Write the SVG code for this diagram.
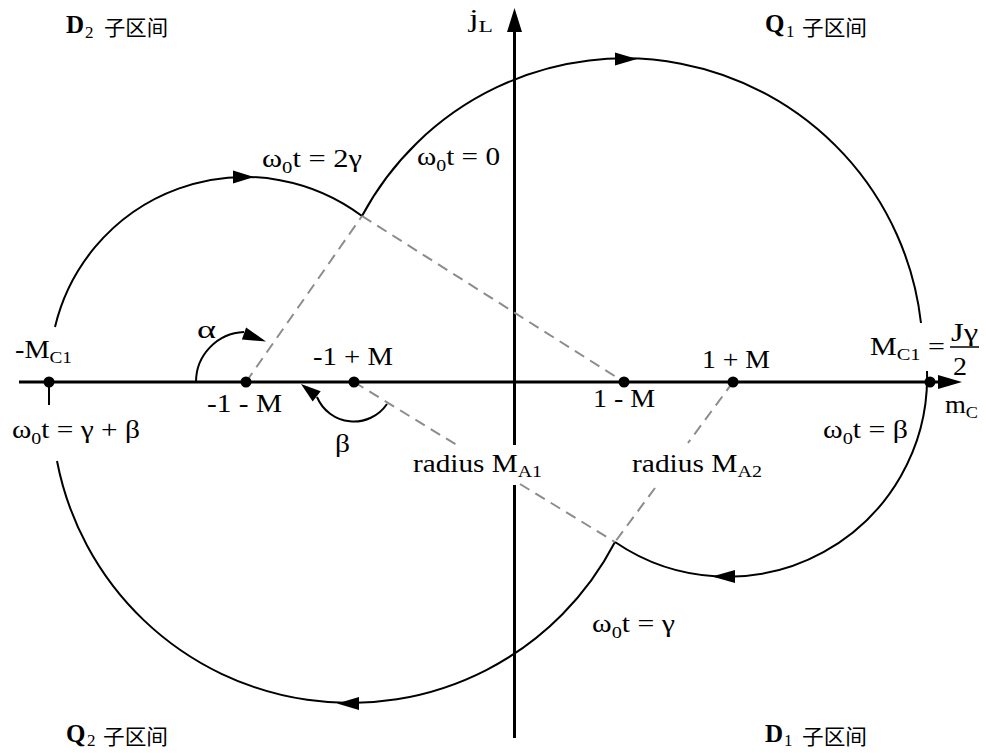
<svg xmlns="http://www.w3.org/2000/svg" width="986" height="753" viewBox="0 0 986 753">
<style>
  text { font-family: "Liberation Serif", "Times New Roman", serif; font-size: 25px; fill: #000; }
  .sub { font-size: 17px; }
  .cjk { font-family: "Noto Sans CJK SC", "Noto Sans CJK TC", sans-serif; font-size: 21px; }
  .bold { font-weight: bold; font-size: 25px; }
  .axis { stroke: #000; stroke-width: 3; fill: none; }
  .arc { stroke: #000; stroke-width: 2; fill: none; }
  .dash { stroke: #8c8c8c; stroke-width: 2; stroke-dasharray: 11 7; fill: none; }
  .head { fill: #000; stroke: none; }
  .dot { fill: #000; }
</style>
<rect width="986" height="753" fill="#fff"/>

<g id="axes">
  <line class="axis" x1="19" y1="382" x2="942" y2="382"/>
  <polygon class="head" points="962,382 938,375 938,389"/>
  <line class="axis" x1="514.5" y1="738" x2="514.5" y2="485"/>
  <line class="axis" x1="514.5" y1="445" x2="514.5" y2="30"/>
  <polygon class="head" points="514.5,8 507,32 522,32"/>
  <line class="arc" x1="49" y1="382" x2="49" y2="405"/>
</g>

<g id="connectors">
  <path id="arc-Q1" class="arc" d="M362,216 A298,298 0 0 1 921,323"/>
  <path id="arc-D1" class="arc" d="M927,371 A199.6,199.6 0 0 1 615,542"/>
  <path id="arc-Q2" class="arc" d="M615,542 A298.5,298.5 0 0 1 57,461"/>
  <path id="arc-D2" class="arc" d="M55,327 A195.2,195.2 0 0 1 362,216"/>
  <polygon class="head" points="637,59 615,52.5 615,65.5"/>
  <polygon class="head" points="712,576.5 735,570 735,583"/>
  <polygon class="head" points="337,703.5 359,697 359,710"/>
  <polygon class="head" points="254,177 233,170.5 233,183.5"/>

  <path id="angle-alpha" class="arc" d="M196,382 A50,50 0 0 1 244,332"/>
  <polygon class="head" points="266,341.5 241.9,339.6 246.1,327.4"/>
  <path id="angle-beta" class="arc" d="M387,404 A40,40 0 0 1 317,397"/>
  <polygon class="head" points="301,384 320.7,391.3 312.7,401.5"/>

  <line class="dash" x1="246" y1="382" x2="362" y2="216"/>
  <line class="dash" x1="362" y1="216" x2="624" y2="382"/>
  <line class="dash" x1="354" y1="382" x2="460" y2="447"/>
  <line class="dash" x1="520" y1="484" x2="615" y2="542"/>
  <line class="dash" x1="733" y1="382" x2="688" y2="443"/>
  <line class="dash" x1="655" y1="488" x2="615" y2="542"/>
</g>

<g id="pt-negMC1"><circle class="dot" cx="49" cy="382" r="5.5"/>
  <text x="15" y="358" textLength="57" lengthAdjust="spacingAndGlyphs">-M<tspan class="sub" dy="5">C1</tspan></text></g>
<g id="pt-neg1minusM"><circle class="dot" cx="246" cy="382" r="5.5"/>
  <text x="207" y="412" textLength="75" lengthAdjust="spacingAndGlyphs">-1 - M</text></g>
<g id="pt-neg1plusM"><circle class="dot" cx="354" cy="382" r="5.5"/>
  <text x="313" y="365" textLength="80" lengthAdjust="spacingAndGlyphs">-1 + M</text></g>
<g id="pt-1minusM"><circle class="dot" cx="624" cy="382" r="5.5"/>
  <text x="593" y="407" textLength="62" lengthAdjust="spacingAndGlyphs">1 - M</text></g>
<g id="pt-1plusM"><circle class="dot" cx="733" cy="382" r="5.5"/>
  <text x="702" y="368" textLength="68" lengthAdjust="spacingAndGlyphs">1 + M</text></g>
<g id="pt-MC1"><circle class="dot" cx="930" cy="382" r="5.5"/>
  <text x="870" y="355" textLength="75" lengthAdjust="spacingAndGlyphs">M<tspan class="sub" dy="5">C1</tspan><tspan dy="-5"> =</tspan></text>
  <text x="951" y="341" textLength="27" lengthAdjust="spacingAndGlyphs">Jγ</text>
  <line x1="950" y1="347" x2="979" y2="347" stroke="#000" stroke-width="1.5"/>
  <text x="953" y="375" textLength="14" lengthAdjust="spacingAndGlyphs">2</text></g>

<g id="labels">
  <text x="469" y="27" textLength="24" lengthAdjust="spacingAndGlyphs">j<tspan class="sub" dy="5">L</tspan></text>
  <text x="945" y="413" textLength="33" lengthAdjust="spacingAndGlyphs">m<tspan class="sub" dy="5">C</tspan></text>
  <text x="262" y="167" textLength="100" lengthAdjust="spacingAndGlyphs">ω<tspan class="sub" dy="6">0</tspan><tspan dy="-6">t = 2γ</tspan></text>
  <text x="417" y="165" textLength="83" lengthAdjust="spacingAndGlyphs">ω<tspan class="sub" dy="6">0</tspan><tspan dy="-6">t = 0</tspan></text>
  <text x="12" y="438" textLength="128" lengthAdjust="spacingAndGlyphs">ω<tspan class="sub" dy="6">0</tspan><tspan dy="-6">t = γ + β</tspan></text>
  <text x="823" y="438" textLength="85" lengthAdjust="spacingAndGlyphs">ω<tspan class="sub" dy="6">0</tspan><tspan dy="-6">t = β</tspan></text>
  <text x="592" y="632" textLength="83" lengthAdjust="spacingAndGlyphs">ω<tspan class="sub" dy="6">0</tspan><tspan dy="-6">t = γ</tspan></text>
  <text x="413" y="472" textLength="129" lengthAdjust="spacingAndGlyphs">radius M<tspan class="sub" dy="5">A1</tspan></text>
  <text x="632" y="472" textLength="130" lengthAdjust="spacingAndGlyphs">radius M<tspan class="sub" dy="5">A2</tspan></text>
  <text x="197" y="338" textLength="19" lengthAdjust="spacingAndGlyphs">α</text>
  <text x="335" y="452" textLength="15" lengthAdjust="spacingAndGlyphs">β</text>
</g>

<g id="region-D2">
  <text class="bold" x="66" y="33">D</text><text class="sub" x="85" y="38">2</text>
  <text class="cjk" x="104" y="35" textLength="64" lengthAdjust="spacingAndGlyphs">子区间</text>
</g>
<g id="region-Q1">
  <text class="bold" x="765" y="32">Q</text><text class="sub" x="786" y="37">1</text>
  <text class="cjk" x="802" y="35" textLength="65" lengthAdjust="spacingAndGlyphs">子区间</text>
</g>
<g id="region-Q2">
  <text class="bold" x="66" y="742">Q</text><text class="sub" x="87" y="746">2</text>
  <text class="cjk" x="103" y="744" textLength="65" lengthAdjust="spacingAndGlyphs">子区间</text>
</g>
<g id="region-D1">
  <text class="bold" x="765" y="742">D</text><text class="sub" x="784" y="746">1</text>
  <text class="cjk" x="802" y="744" textLength="65" lengthAdjust="spacingAndGlyphs">子区间</text>
</g>
</svg>
